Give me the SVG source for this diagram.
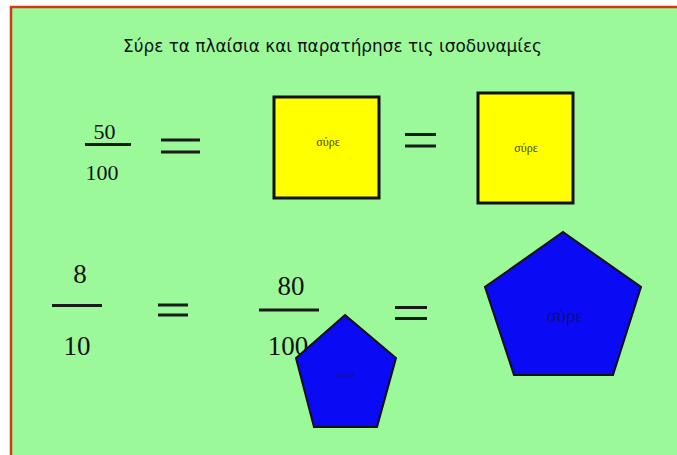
<svg xmlns="http://www.w3.org/2000/svg" width="677" height="455" viewBox="0 0 677 455">
<style>
.num{font-family:"Liberation Serif","Times New Roman",serif;fill:#111;}
.bar{stroke:#1a1a1a;stroke-width:3;fill:none;}
.sq{fill:#ffff00;stroke:#111;stroke-width:3;}
.pent{fill:#0a0af5;stroke:#111;stroke-width:2;stroke-linejoin:miter;}
.lbl{font-family:"Liberation Serif","Times New Roman",serif;text-anchor:middle;}
</style>
<rect x="0" y="0" width="677" height="455" fill="#ffffff"/>
<rect x="11" y="7" width="670" height="452" fill="#9cf99a" stroke="#d43a10" stroke-width="2.5"/>
<text x="123" y="52" font-family="DejaVu Sans,Verdana,sans-serif" font-size="17" fill="#111" textLength="419" lengthAdjust="spacingAndGlyphs">Σύρε τα πλαίσια και παρατήρησε τις ισοδυναμίες</text>
<g id="frac1">
<text class="num" x="104.5" y="139" font-size="22" text-anchor="middle">50</text>
<line class="bar" x1="85" y1="144.5" x2="131" y2="144.5"/>
<text class="num" x="102" y="180" font-size="22" text-anchor="middle">100</text>
</g>
<g id="eq1"><line class="bar" x1="161" y1="140" x2="200" y2="140"/><line class="bar" x1="161" y1="152" x2="200" y2="152"/></g>
<g id="sq1">
<rect class="sq" x="274" y="97" width="105" height="101"/>
<text class="lbl" x="328" y="146" font-size="12" fill="#4a4a00">σύρε</text>
</g>
<g id="eq2"><line class="bar" x1="405" y1="134.5" x2="436" y2="134.5"/><line class="bar" x1="405" y1="146" x2="436" y2="146"/></g>
<g id="sq2">
<rect class="sq" x="478" y="93" width="95" height="110"/>
<text class="lbl" x="526" y="152" font-size="12" fill="#4a4a00">σύρε</text>
</g>
<g id="frac2">
<text class="num" x="80" y="283" font-size="27" text-anchor="middle">8</text>
<line class="bar" x1="52" y1="305.5" x2="102" y2="305.5"/>
<text class="num" x="77" y="355" font-size="27" text-anchor="middle">10</text>
</g>
<g id="eq3"><line class="bar" x1="158" y1="305" x2="188" y2="305"/><line class="bar" x1="158" y1="315" x2="188" y2="315"/></g>
<g id="frac3">
<text class="num" x="291" y="295" font-size="27" text-anchor="middle">80</text>
<line class="bar" x1="259" y1="310" x2="319" y2="310"/>
<text class="num" x="288" y="355" font-size="27" text-anchor="middle">100</text>
</g>
<g id="pent1">
<polygon class="pent" points="345,315 396,358 377,427 314,427 296,358"/>
<text class="lbl" x="346" y="378" font-size="10" fill="#141480">σύρε</text>
</g>
<g id="eq4"><line class="bar" x1="395" y1="307.5" x2="427" y2="307.5"/><line class="bar" x1="395" y1="318.5" x2="427" y2="318.5"/></g>
<g id="pent2">
<polygon class="pent" points="563,232 641,287 613,375 514,375 485,287"/>
<text class="lbl" x="565" y="322" font-size="19" fill="#101070">σύρε</text>
</g>
<g id="connectors"/>
</svg>
